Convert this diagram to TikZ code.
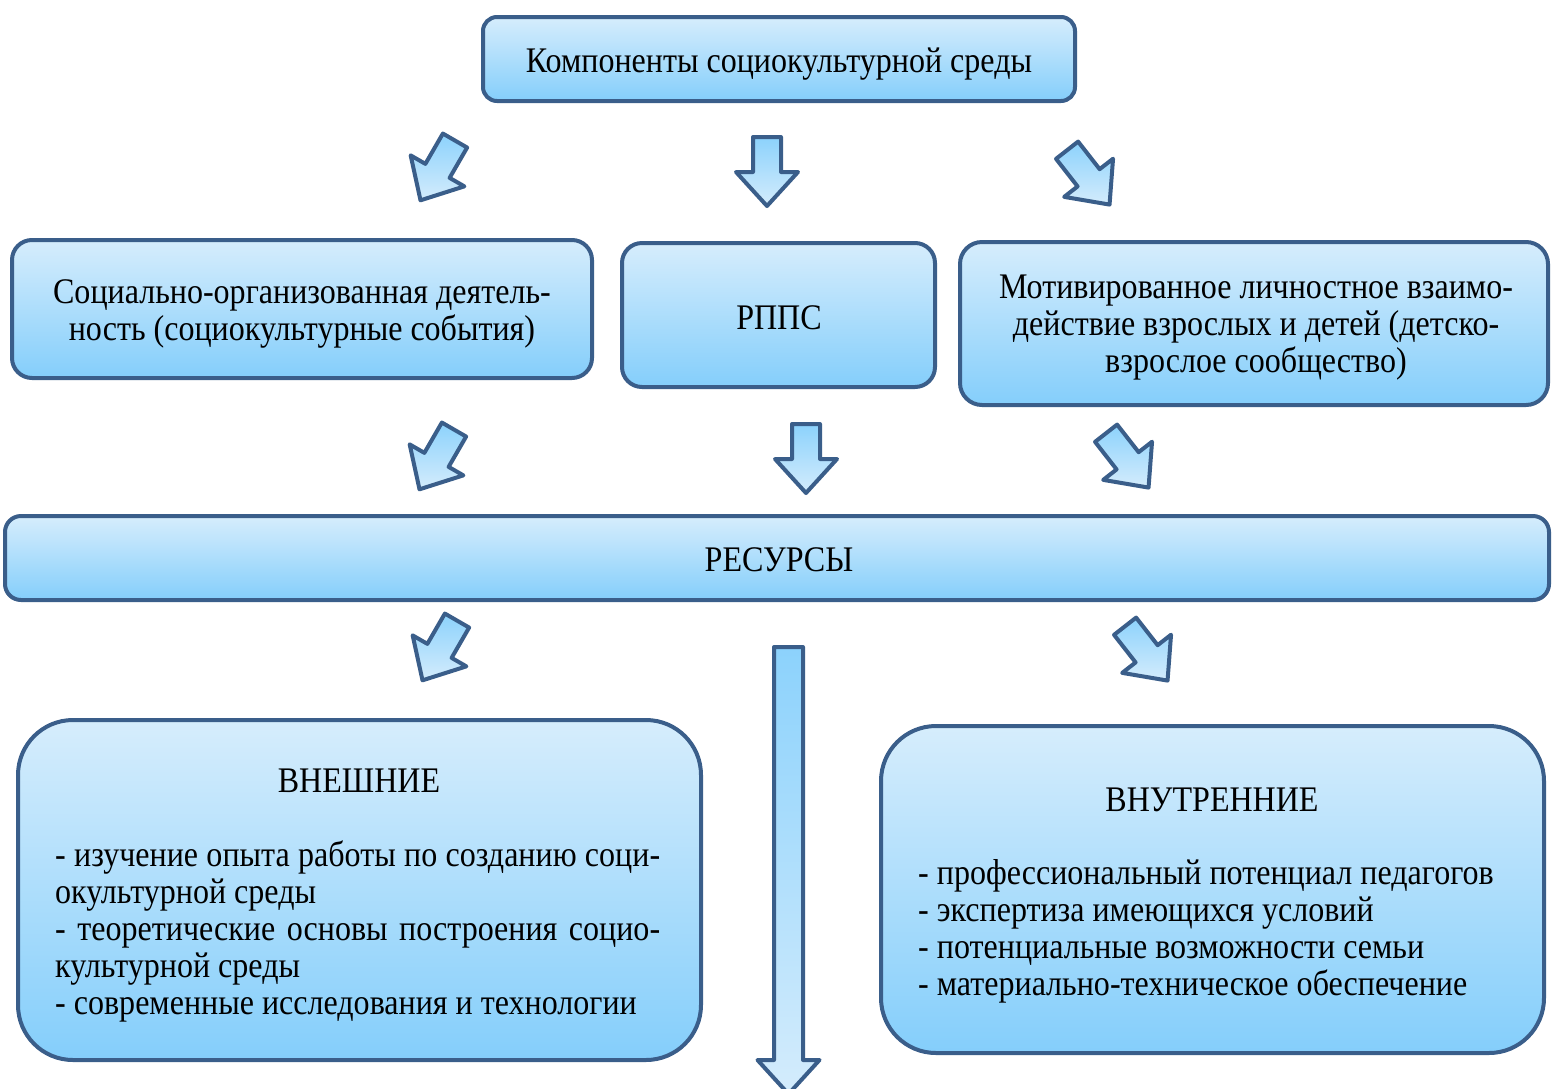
\documentclass[tikz,border=0pt]{standalone}
\usepackage{fontspec}
\setmainfont[FakeStretch=0.89]{Liberation Serif}
\definecolor{bordc}{RGB}{58,94,138}
\definecolor{boxtop}{RGB}{214,237,252}
\definecolor{boxbot}{RGB}{132,206,251}
\definecolor{arrA}{RGB}{140,210,252}
\definecolor{arrB}{RGB}{212,236,252}
\newcommand\myfont{\fontsize{36}{37}\selectfont}
\begin{document}
\begin{tikzpicture}[x=1pt,y=-1pt,
  box/.style={draw=bordc, line width=4pt, rounded corners=#1, top color=boxtop, bottom color=boxbot, inner sep=0pt},
  box/.default=16pt,
  txt/.style={font=\myfont, align=center, inner sep=0pt, text=black},
  arrowfill/.style={draw=bordc, line width=4pt, line join=round, top color=arrA, bottom color=arrB},
  barrow/.pic={\path[arrowfill] (-34,-14) -- (1,-14) -- (1,-31) -- (35,0) -- (1,31) -- (1,14) -- (-34,14) -- cycle;}
]
\useasboundingbox (0,0) rectangle (1553,1088);

% boxes
\node[box=14pt, minimum width=592pt, minimum height=84pt] (top) at (779,59) {};
\node[txt] (toptxt) at (779,64) {Компоненты социокультурной среды};

\node[box=20pt, minimum width=580pt, minimum height=138pt] (soc) at (302,309) {};
\node[txt] (soctxt) at (302,314) {Социально-организованная деятель-\\ность (социокультурные события)};

\node[box=20pt, minimum width=313pt, minimum height=144pt] (rpps) at (778.5,315) {};
\node[txt] (rppstxt) at (779,318) {РППС};

\node[box=22pt, minimum width=588pt, minimum height=163pt] (mot) at (1254,323.5) {};
\node[txt] (mottxt) at (1256,328) {Мотивированное личностное взаимо-\\действие взрослых и детей (детско-\\взрослое сообщество)};

\node[box=16pt, minimum width=1544pt, minimum height=84pt] (res) at (777,558) {};
\node[txt] (restxt) at (779,560) {РЕСУРСЫ};

\node[box=55pt, minimum width=683pt, minimum height=340pt] (ext) at (359.5,890) {};
\node[txt] (exttitle) at (359,781) {ВНЕШНИЕ};
\node[txt, text width=605pt, align=justify, anchor=north west] (extbody) at (55,841)
 {- изучение опыта работы по созданию соци-\linebreak
  окультурной среды\par
  - теоретические основы построения социо-\linebreak
  культурной среды\par
  - современные исследования и технологии};

\node[box=55pt, minimum width=663pt, minimum height=327pt] (int) at (1212.5,889.5) {};
\node[txt] (inttitle) at (1212,800) {ВНУТРЕННИЕ};
\node[txt, align=left, anchor=north west] (intbody) at (918,859)
 {- профессиональный потенциал педагогов\\
  - экспертиза имеющихся условий\\
  - потенциальные возможности семьи\\
  - материально-техническое обеспечение};

% small block arrows
\path (438,170) pic (a1) [rotate=-120] {barrow};
\path (767,171) pic (a2) [rotate=-90] {barrow};
\path (1088,177) pic (a3) [rotate=-52] {barrow};
\path (437,459) pic (a4) [rotate=-120] {barrow};
\path (806,458) pic (a5) [rotate=-90] {barrow};
\path (1127,460) pic (a6) [rotate=-52] {barrow};
\path (440,650) pic (a7) [rotate=-120] {barrow};
\path (1146,653) pic (a8) [rotate=-52] {barrow};

% long arrow
\coordinate (ltop) at (788.5,647);
\path[arrowfill]
  ([xshift=-14.5pt]ltop) -- ([xshift=14.5pt]ltop) -- ++(0,413) -- ++(16.5,0) -- ++(-31,34) -- ++(-31,-34) -- ++(16.5,0) -- cycle;
\end{tikzpicture}
\end{document}
